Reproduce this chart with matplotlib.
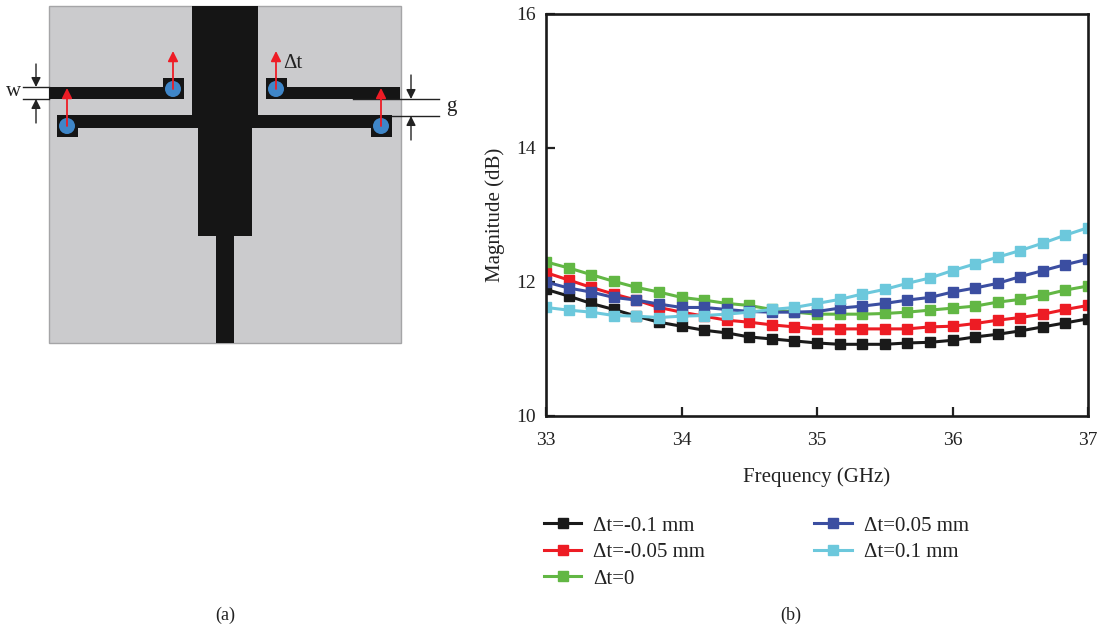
import matplotlib
matplotlib.use('Agg')
import matplotlib.pyplot as plt
from matplotlib.patches import Rectangle, Circle

plt.rcParams['font.family'] = ['Liberation Serif', 'DejaVu Serif']

# frequency sweep, 25 points from 33 to 37 GHz
freq = [33 + i / 6 for i in range(25)]
s_m010 = [11.89, 11.79, 11.68, 11.59, 11.49, 11.40, 11.34, 11.28, 11.24, 11.18, 11.15, 11.12, 11.09,
          11.07, 11.07, 11.07, 11.09, 11.10, 11.13, 11.18, 11.22, 11.27, 11.33, 11.39, 11.45]
s_m005 = [12.14, 12.03, 11.92, 11.82, 11.73, 11.62, 11.55, 11.49, 11.43, 11.40, 11.36, 11.33, 11.30,
          11.30, 11.30, 11.30, 11.30, 11.33, 11.34, 11.38, 11.43, 11.47, 11.52, 11.59, 11.65]
s_0 = [12.30, 12.21, 12.11, 12.01, 11.92, 11.85, 11.77, 11.73, 11.68, 11.65, 11.59, 11.55, 11.52,
       11.52, 11.52, 11.53, 11.55, 11.58, 11.61, 11.64, 11.70, 11.74, 11.80, 11.88, 11.94]
s_p005 = [12.00, 11.91, 11.85, 11.77, 11.73, 11.67, 11.62, 11.62, 11.59, 11.56, 11.55, 11.55, 11.56,
          11.61, 11.64, 11.68, 11.73, 11.77, 11.85, 11.91, 11.98, 12.08, 12.17, 12.26, 12.34]
s_p010 = [11.62, 11.58, 11.55, 11.50, 11.49, 11.47, 11.49, 11.50, 11.52, 11.55, 11.59, 11.62, 11.68,
          11.74, 11.82, 11.89, 11.98, 12.06, 12.17, 12.27, 12.37, 12.47, 12.58, 12.70, 12.81]

series = [s_m010, s_m005, s_0, s_p005, s_p010]
labels = ['Δt=-0.1 mm', 'Δt=-0.05 mm', 'Δt=0', 'Δt=0.05 mm', 'Δt=0.1 mm']
colors = ['#1a1a1a', '#ed1c24', '#62b744', '#3b4ea1', '#6cc8dc']
xticks = [33, 34, 35, 36, 37]
yticks = [10, 12, 14, 16]

fig = plt.figure(figsize=(11, 6.31), dpi=100)

# antenna sketch on a pixel-sized overlay
sk = fig.add_axes([0, 0, 1, 1])
sk.set_xlim(0, 1100)
sk.set_ylim(631, 0)
sk.axis('off')

dark = '#151515'
sk.add_patch(Rectangle((49, 6), 352, 337, fc='#cbcbcd', ec='#a5a5a7', lw=1))
# x, y, width, height of the metal parts
metal = [(192, 6, 66, 122), (198, 128, 54, 108), (216, 236, 18, 107),
         (49, 87, 135, 12), (163, 78, 21, 21), (266, 78, 21, 21), (266, 87, 134, 12),
         (57, 115, 135, 13), (57, 115, 21, 22), (258, 115, 134, 13), (371, 115, 21, 22)]
for x, y, w, h in metal:
    sk.add_patch(Rectangle((x, y), w, h, fc=dark, ec='none'))

vias = [(173, 89), (67, 126), (276, 89), (381, 126)]
for x, y in vias:
    sk.add_patch(Circle((x, y), 8, fc='#3f86c8', ec='none', zorder=3))
    sk.annotate('', xy=(x, y - 38), xytext=(x, y),
                arrowprops=dict(arrowstyle='-|>', color='#ee1c25', lw=1.3, mutation_scale=15,
                                shrinkA=0, shrinkB=0), zorder=4)

# w and g dimension marks
for x0, x1, y in [(23, 49, 87), (23, 49, 99), (353, 439, 99), (392, 439, 116)]:
    sk.plot([x0, x1], [y, y], color='#222222', lw=1)
for x, y0, y1 in [(36, 64, 87), (36, 123, 99), (411, 75, 99), (411, 140, 116)]:
    sk.annotate('', xy=(x, y1), xytext=(x, y0),
                arrowprops=dict(arrowstyle='-|>', color='#222222', lw=1, mutation_scale=14,
                                shrinkA=0, shrinkB=0))
sk.text(14, 92, 'w', fontsize=15, ha='center', va='center', color='#222222')
sk.text(451, 106, 'g', fontsize=15, ha='center', va='center', color='#222222')
sk.text(293, 63, 'Δt', fontsize=15, ha='center', va='center', color='#222222')
sk.text(225, 615, '(a)', fontsize=13, ha='center', va='center', color='#222222')
sk.text(791, 615, '(b)', fontsize=13, ha='center', va='center', color='#222222')

# magnitude plot
ax = fig.add_axes([546 / 1100, 1 - 416 / 631, 542 / 1100, 402 / 631])
for vals, lab, c in zip(series, labels, colors):
    ax.plot(freq, vals, color=c, lw=2.2, marker='s', ms=6.5, label=lab)
ax.set_xlim(33, 37)
ax.set_ylim(10, 16)
ax.set_xticks(xticks)
ax.set_yticks(yticks)
ax.tick_params(direction='in', length=6.5, width=1.6, labelsize=14, colors='#222222')
ax.tick_params(axis='x', pad=11.5)
ax.tick_params(axis='y', pad=7.5)
for sp in ax.spines.values():
    sp.set_linewidth(1.9)
    sp.set_color('#1a1a1a')
ax.set_xlabel('Frequency (GHz)', fontsize=15, color='#222222', labelpad=13)
ax.set_ylabel('Magnitude (dB)', fontsize=15, color='#222222', labelpad=8)

ax.legend(loc='upper left', bbox_to_anchor=(544 / 1100, 1 - 516 / 631), bbox_transform=fig.transFigure,
          ncol=2, frameon=False, fontsize=15, handlelength=1.78, handletextpad=0.58, columnspacing=5.25,
          labelspacing=0.33, borderpad=0, borderaxespad=0, labelcolor='#222222', markerscale=1.1)

fig.savefig('out.png', dpi=100)
